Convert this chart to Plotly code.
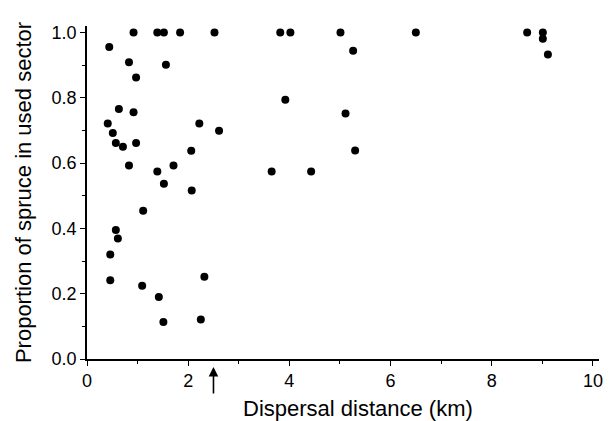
import plotly.graph_objects as go

# Dispersal distance (km) and proportion of spruce in used sector
distance_km = [0.92, 1.39, 1.52, 1.84, 2.52, 3.82, 4.02, 5.01, 6.50, 8.70, 9.01,
               0.44, 0.83, 1.56, 0.97, 3.92, 0.63, 0.92, 0.41, 2.22, 2.61,
               0.51, 0.57, 0.97, 0.71, 2.06, 0.83, 1.71, 1.39, 3.65, 1.52,
               2.07, 1.11, 9.01, 9.11, 5.26, 5.11, 5.30, 4.43,
               0.57, 0.61, 0.46, 0.46, 2.32, 1.09, 1.42, 1.51, 2.25]
proportion = [1.0, 1.0, 1.0, 1.0, 1.0, 1.0, 1.0, 1.0, 1.0, 1.0, 1.0,
              0.956, 0.909, 0.901, 0.862, 0.794, 0.766, 0.756, 0.721, 0.721, 0.699,
              0.692, 0.662, 0.662, 0.650, 0.638, 0.593, 0.593, 0.574, 0.574, 0.537,
              0.516, 0.454, 0.981, 0.933, 0.944, 0.752, 0.639, 0.574,
              0.395, 0.369, 0.320, 0.241, 0.252, 0.224, 0.190, 0.113, 0.121]

x_ticks = [0, 2, 4, 6, 8, 10]
y_ticks = [0.0, 0.2, 0.4, 0.6, 0.8, 1.0]
arrow_x = 2.5

FONT = "Liberation Sans, Arial, sans-serif"

fig = go.Figure()
fig.add_trace(go.Scatter(
    x=distance_km, y=proportion, mode="markers",
    marker=dict(color="black", size=8, line=dict(width=0)),
    cliponaxis=False, showlegend=False,
))

axis_common = dict(
    showline=True, linecolor="black", linewidth=1.5,
    ticks="outside", ticklen=5, tickwidth=1.2, tickcolor="black",
    showgrid=False, zeroline=False, mirror=False,
    tickfont=dict(family=FONT, size=18, color="black"),
)

fig.update_xaxes(
    range=[0, 10.12], tickvals=x_ticks,
    minor=dict(dtick=1, tick0=0, ticks="outside", ticklen=3, tickwidth=1, tickcolor="black"),
    **axis_common,
)
fig.update_yaxes(
    range=[0, 1.02], tickvals=y_ticks, tickformat=".1f",
    minor=dict(dtick=0.1, tick0=0, ticks="outside", ticklen=3, tickwidth=1, tickcolor="black"),
    title=dict(text="Proportion of spruce in used sector",
               font=dict(family=FONT, size=22, color="black"), standoff=14),
    **axis_common,
)

fig.add_annotation(
    text="Dispersal distance (km)", xref="x", yref="paper",
    x=5.35, y=-0.150, yanchor="middle", xanchor="center", showarrow=False,
    font=dict(family=FONT, size=22, color="black"),
)
fig.add_annotation(
    text="", xref="x", yref="paper", x=arrow_x, y=-0.024,
    showarrow=True, ax=0, ay=28, axref="pixel", ayref="pixel",
    arrowhead=2, arrowsize=1.2, arrowwidth=1.6, arrowcolor="black",
)

fig.update_layout(
    width=612, height=421,
    margin=dict(l=87, r=9, t=26, b=62),
    paper_bgcolor="white", plot_bgcolor="white",
    font=dict(family=FONT, color="black"),
)

fig.write_html("out.html", config={"displayModeBar": False},
               post_script="document.body.style.margin='0';")
